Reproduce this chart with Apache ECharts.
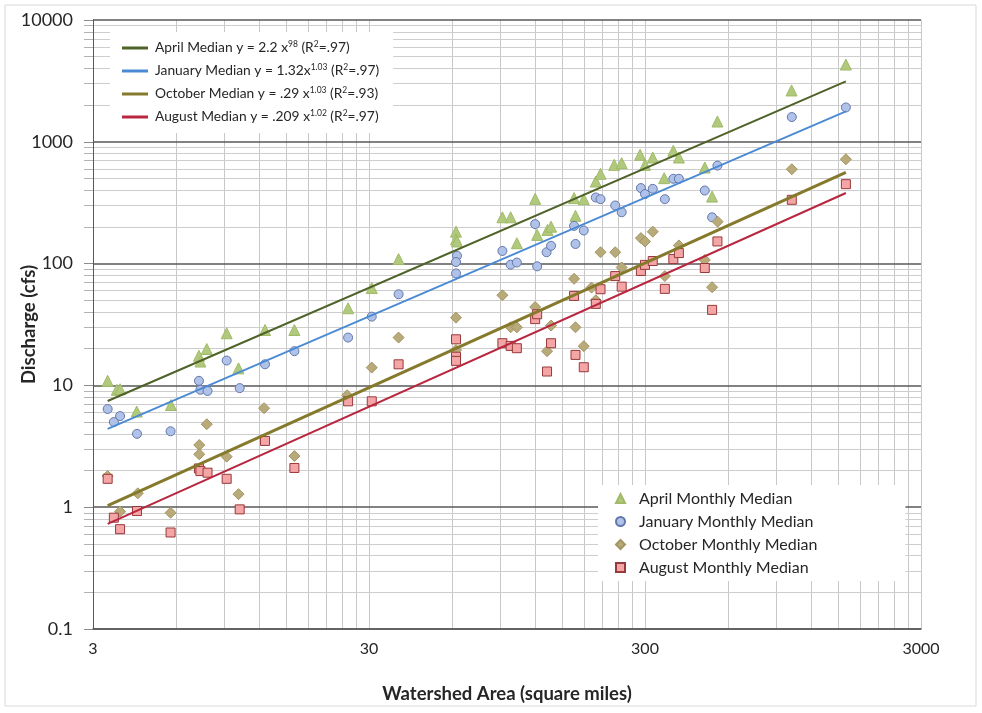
<!DOCTYPE html>
<html>
<head>
<meta charset="utf-8">
<script src="https://cdn.jsdelivr.net/npm/echarts@6/dist/echarts.min.js"></script>
<style>
  html, body { margin: 0; padding: 0; background: #fff; }
  #chart { width: 982px; height: 713px; }
</style>
</head>
<body>
<div id="chart"></div>
<script>
// [watershed area (sq mi), discharge (cfs)]
const aprilPoints = [
  [3.39, 10.9], [3.66, 9.2], [3.76, 9.3], [4.32, 6.1], [5.75, 6.9], [7.26, 17.5], [7.35, 15.7],
  [7.75, 19.9], [9.15, 26.8], [10.1, 13.8], [12.6, 28.5], [16.1, 28.5], [25.2, 43], [30.7, 63],
  [38.4, 109], [62, 183], [62, 158], [62.5, 152], [91.3, 240], [97.8, 240], [103, 147], [120, 340],
  [122, 172], [133, 189], [137, 201], [166, 345], [168, 247], [180, 338], [199, 472], [207, 546],
  [232, 647], [247, 668], [288, 782], [300, 647], [320, 743], [352, 503], [380, 844], [398, 743],
  [494, 615], [525, 355], [549, 1468], [1019, 2640], [1603, 4310]
]
const januaryPoints = [
  [3.39, 6.4], [3.57, 5.0], [3.76, 5.6], [4.33, 4.0], [5.73, 4.2], [7.26, 10.9], [7.35, 9.2],
  [7.8, 9.0], [9.15, 16.0], [10.2, 9.5], [12.6, 14.9], [16.1, 19.1], [25.2, 24.7], [30.7, 36.7],
  [38.4, 56], [62.5, 116], [62, 103], [62, 83], [91.3, 127], [97.8, 98], [103, 102], [120, 211],
  [122, 95], [132, 124], [137, 140], [166, 204], [168, 145], [180, 187], [199, 349], [207, 338],
  [234, 300], [247, 264], [290, 417], [300, 372], [320, 411], [354, 338], [380, 497], [398, 497],
  [494, 398], [525, 240], [549, 638], [1021, 1597], [1603, 1914]
]
const octoberPoints = [
  [3.39, 1.8], [3.76, 0.92], [4.36, 1.3], [5.73, 0.9], [7.28, 3.24], [7.28, 2.72], [7.75, 4.8],
  [9.15, 2.6], [10.1, 1.28], [12.5, 6.5], [16.1, 2.63], [25, 8.3], [30.7, 14.0], [38.4, 24.7],
  [62, 36], [62, 19.5], [91.3, 55], [97.8, 30], [103, 30], [120, 44], [132.5, 19.1], [137, 31],
  [166, 75], [168, 30], [180, 21], [192, 63.5], [199, 50], [207, 124], [234, 124], [247, 93],
  [290, 162], [300, 152], [320, 183], [354, 79], [398, 141], [494, 107], [525, 64], [550, 221],
  [1021, 596], [1603, 719]
]
const augustPoints = [
  [3.39, 1.71], [3.57, 0.82], [3.76, 0.66], [4.33, 0.93], [5.73, 0.62], [7.26, 2.08], [7.35, 1.98],
  [7.8, 1.92], [9.15, 1.71], [10.2, 0.96], [12.6, 3.5], [16.1, 2.1], [25.2, 7.4], [30.7, 7.4],
  [38.4, 14.9], [62, 23.9], [62, 17.2], [62, 15.9], [91.3, 22.2], [97.8, 21.1], [103, 20.2],
  [120, 35], [122, 38.4], [132.5, 13.0], [137, 22.2], [166, 54.3], [168, 17.8], [180, 14.1],
  [199, 46.7], [207, 61.6], [234, 79], [247, 64.7], [290, 87], [300, 97.6], [320, 105], [354, 62],
  [380, 109], [398, 122], [494, 92], [525, 41.7], [549, 152], [1021, 334], [1603, 449]
]

// trend line ends as drawn
const aprilTrend = [[3.39, 7.45], [1603, 3130]]
const januaryTrend = [[3.39, 4.4], [1603, 1780]]
const octoberTrend = [[3.39, 1.03], [1603, 560]]
const augustTrend = [[3.39, 0.73], [1603, 380]]

// axis ticks and grid lines
const xLabels = [3, 30, 300, 3000]
const xGrid = [3, 6, 9, 12, 15, 18, 21, 24, 27, 30, 60, 90, 120, 150, 180, 210, 240, 270,
  300, 600, 900, 1200, 1500, 1800, 2100, 2400, 2700, 3000]
const yMajor = [0.1, 1, 10, 100, 1000, 10000]
const yMinor = [0.2, 0.3, 0.4, 0.5, 0.6, 0.7, 0.8, 0.9, 2, 3, 4, 5, 6, 7, 8, 9,
  20, 30, 40, 50, 60, 70, 80, 90, 200, 300, 400, 500, 600, 700, 800, 900,
  2000, 3000, 4000, 5000, 6000, 7000, 8000, 9000]

const trendLabels = {
  'April Median': 'April Median y = 2.2 x{sup|98} (R{sup|2}=.97)',
  'January Median': 'January Median y = 1.32x{sup|1.03} (R{sup|2}=.97)',
  'October Median': 'October Median y = .29 x{sup|1.03} (R{sup|2}=.93)',
  'August Median': 'August Median y = .209 x{sup|1.02} (R{sup|2}=.97)'
}

const FONT = 'Lato, "Open Sans", sans-serif'

const chart = echarts.init(document.getElementById('chart'))

function scatter(name, data, symbol, size, fill, border) {
  return {
    name: name,
    type: 'scatter',
    data: data,
    symbol: symbol,
    symbolSize: size,
    itemStyle: { color: fill, borderColor: border, borderWidth: 1, opacity: 1 },
    z: 3
  }
}

function trend(name, data, color, width) {
  return {
    name: name,
    type: 'line',
    data: data,
    symbol: 'none',
    lineStyle: { color: color, width: width },
    itemStyle: { color: color },
    z: 4
  }
}

const option = {
  animation: false,
  graphic: [{
    type: 'rect',
    shape: { x: 5, y: 5, width: 971, height: 701 },
    style: { fill: 'none', stroke: '#d9d9d9', lineWidth: 1 },
    silent: true
  }],
  grid: { left: 93, right: 61, top: 20, bottom: 84, containLabel: false, outerBoundsMode: 'none' },
  xAxis: {
    type: 'log',
    min: 3,
    max: 3000,
    name: 'Watershed Area (square miles)',
    nameLocation: 'middle',
    nameGap: 56,
    nameTextStyle: { fontFamily: FONT, fontSize: 18.5, fontWeight: 'bold', color: '#262626' },
    axisLine: { show: true, lineStyle: { color: '#595959', width: 1.5 } },
    axisTick: { show: false, customValues: xGrid },
    axisLabel: {
      customValues: xLabels, fontFamily: FONT, fontSize: 16, color: '#262626', margin: 12,
      formatter: v => String(v)
    },
    splitLine: { show: true, lineStyle: { color: '#c8c8c8', width: 1 } }
  },
  yAxis: [{
    type: 'log',
    min: 0.1,
    max: 10000,
    name: 'Discharge (cfs)',
    nameLocation: 'middle',
    nameGap: 54,
    nameMoveOverlap: false,
    nameTextStyle: { fontFamily: FONT, fontSize: 18.5, fontWeight: 'bold', color: '#262626' },
    axisLine: { show: true, lineStyle: { color: '#595959', width: 1 } },
    axisTick: { show: true, inside: false, length: 9, customValues: yMajor, lineStyle: { color: '#8c8c8c' } },
    axisLabel: {
      customValues: yMajor, fontFamily: FONT, fontSize: 18, color: '#262626', margin: 20,
      formatter: v => String(v)
    },
    splitLine: { show: true, lineStyle: { color: '#595959', width: 1.5 } },
    z: 2
  }, {
    type: 'log',
    min: 0.1,
    max: 10000,
    position: 'left',
    axisLine: { show: false },
    axisTick: { show: true, inside: false, length: 9, customValues: yMinor, lineStyle: { color: '#b3b3b3' } },
    axisLabel: { show: false },
    splitLine: { show: true, lineStyle: { color: '#cdcdcd', width: 1 } },
    z: 1
  }],
  legend: [{
    data: ['April Median', 'January Median', 'October Median', 'August Median'],
    orient: 'vertical',
    left: 110,
    top: 32,
    padding: [8, 14, 8, 12],
    itemGap: 7,
    itemWidth: 26,
    itemHeight: 3,
    icon: 'rect',
    backgroundColor: '#ffffff',
    formatter: name => trendLabels[name],
    textStyle: {
      fontFamily: FONT, fontSize: 13.8, color: '#262626', lineHeight: 16,
      padding: [0, 0, 0, 2],
      rich: { sup: { fontFamily: FONT, fontSize: 8.5, lineHeight: 9, verticalAlign: 'top', color: '#262626' } }
    }
  }, {
    data: ['April Monthly Median', 'January Monthly Median', 'October Monthly Median', 'August Monthly Median'],
    orient: 'vertical',
    left: 598,
    top: 485,
    padding: [5, 88, 5, 17],
    itemGap: 6,
    itemWidth: 9,
    itemHeight: 9,
    backgroundColor: '#ffffff',
    textStyle: { fontFamily: FONT, fontSize: 16, color: '#262626', lineHeight: 17, padding: [0, 0, 0, 9] }
  }],
  series: [
    scatter('April Monthly Median', aprilPoints, 'triangle', 11, '#b0c97c', '#a0ba68'),
    scatter('January Monthly Median', januaryPoints, 'circle', 9, '#b1c2e9', '#6176aa'),
    scatter('October Monthly Median', octoberPoints, 'diamond', 11, '#b9aa79', '#a39463'),
    scatter('August Monthly Median', augustPoints, 'rect', 9, '#f4a5a6', '#98393b'),
    trend('April Median', aprilTrend, '#4f6228', 2),
    trend('January Median', januaryTrend, '#4a8ad4', 1.8),
    trend('October Median', octoberTrend, '#857a2c', 3),
    trend('August Median', augustTrend, '#b8263f', 2)
  ]
}

chart.setOption(option)
</script>
</body>
</html>
